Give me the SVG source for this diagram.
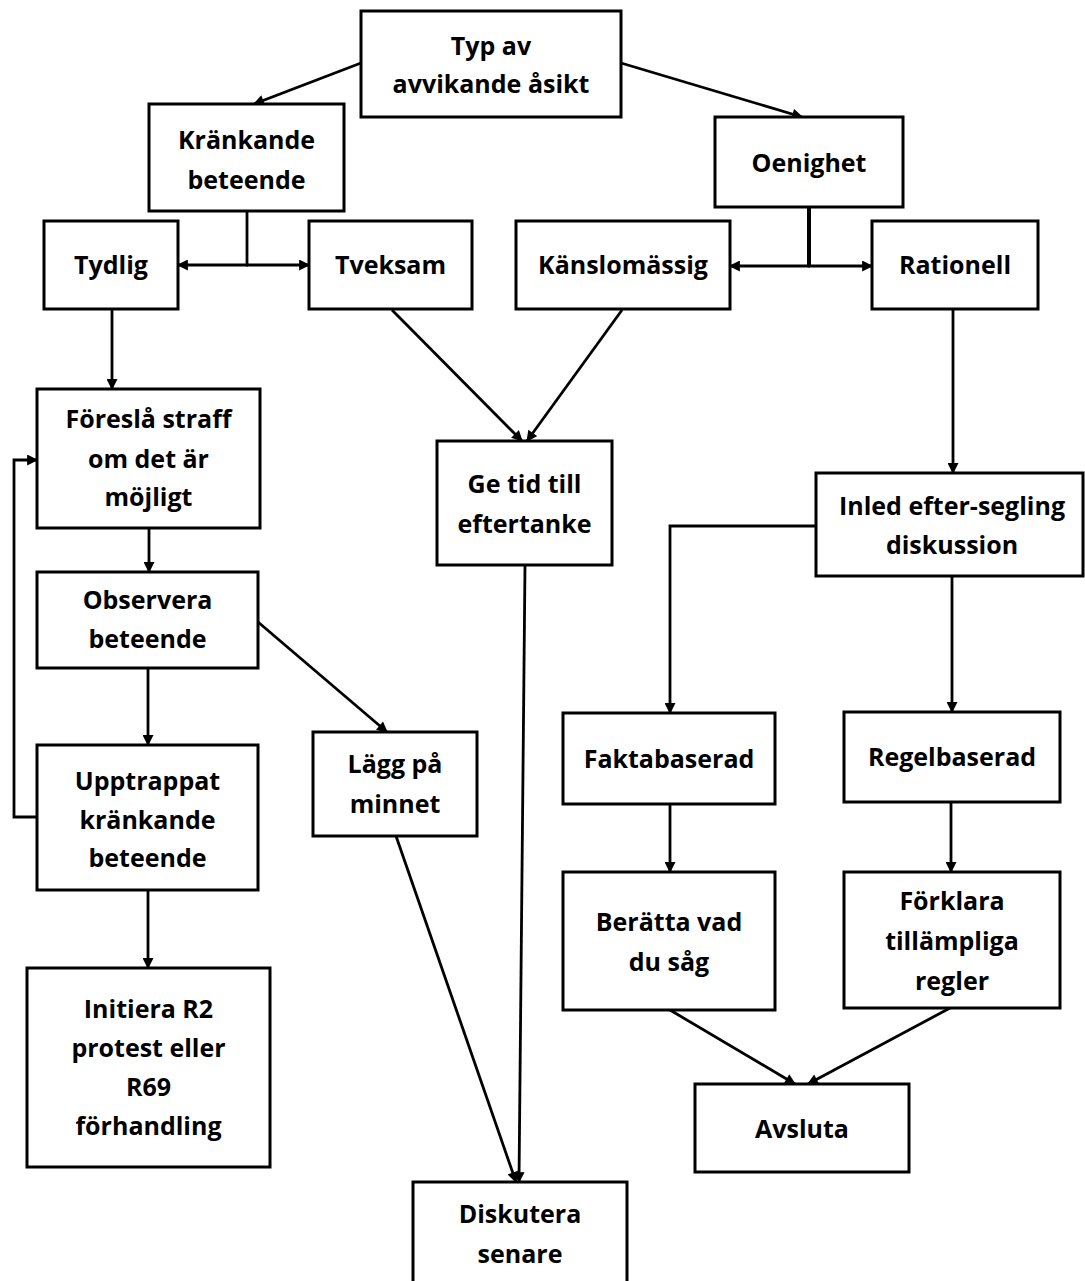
<svg xmlns="http://www.w3.org/2000/svg" width="1085" height="1281" viewBox="0 0 1085 1281">
<style>
  .box { fill: #ffffff; stroke: #000000; stroke-width: 3; }
  .lbl { font-family: "Open Sans", "Liberation Sans", sans-serif; font-weight: 700; font-size: 25px; fill: #000000; text-anchor: middle; }
  .con { fill: none; stroke: #000000; stroke-width: 2.8; }
</style>
<defs>
  <marker id="ah" viewBox="0 0 10 10" refX="9" refY="5" markerWidth="12" markerHeight="11" markerUnits="userSpaceOnUse" orient="auto">
    <path d="M0,0 L10,5 L0,10 z" fill="#000000"/>
  </marker>
</defs>
<rect x="0" y="0" width="1085" height="1281" fill="#ffffff"/>

<g id="connectors">
  <line class="con" x1="361" y1="63" x2="254" y2="104" marker-end="url(#ah)"/>
  <line class="con" x1="621" y1="63" x2="802" y2="117" marker-end="url(#ah)"/>
  <line class="con" x1="247" y1="211" x2="247" y2="266"/>
  <line class="con" x1="248" y1="265" x2="178" y2="265" marker-end="url(#ah)"/>
  <line class="con" x1="246" y1="265" x2="309" y2="265" marker-end="url(#ah)"/>
  <line class="con" x1="809" y1="207" x2="809" y2="267" style="stroke-width:4"/>
  <line class="con" x1="810" y1="266" x2="730" y2="266" marker-end="url(#ah)"/>
  <line class="con" x1="808" y1="266" x2="872" y2="266" marker-end="url(#ah)"/>
  <line class="con" x1="112" y1="309" x2="112" y2="389" marker-end="url(#ah)"/>
  <line class="con" x1="392" y1="310" x2="522" y2="441" marker-end="url(#ah)"/>
  <line class="con" x1="622" y1="310" x2="527" y2="441" marker-end="url(#ah)"/>
  <line class="con" x1="953" y1="309" x2="953" y2="473" marker-end="url(#ah)"/>
  <line class="con" x1="149" y1="528" x2="149" y2="572" marker-end="url(#ah)"/>
  <line class="con" x1="148" y1="668" x2="148" y2="745" marker-end="url(#ah)"/>
  <line class="con" x1="148" y1="890" x2="148" y2="968" marker-end="url(#ah)"/>
  <path class="con" d="M37,817 H14 V460 H37" marker-end="url(#ah)"/>
  <line class="con" x1="258" y1="622" x2="387" y2="732" marker-end="url(#ah)"/>
  <line class="con" x1="525" y1="565" x2="519" y2="1182" marker-end="url(#ah)"/>
  <line class="con" x1="396" y1="836" x2="516" y2="1182" marker-end="url(#ah)"/>
  <path class="con" d="M816,526 H670 V713" marker-end="url(#ah)"/>
  <line class="con" x1="952" y1="576" x2="952" y2="712" marker-end="url(#ah)"/>
  <line class="con" x1="670" y1="804" x2="670" y2="872" marker-end="url(#ah)"/>
  <line class="con" x1="951" y1="802" x2="951" y2="872" marker-end="url(#ah)"/>
  <line class="con" x1="670" y1="1010" x2="795" y2="1084" marker-end="url(#ah)"/>
  <line class="con" x1="950" y1="1008" x2="808" y2="1084" marker-end="url(#ah)"/>
</g>

<g id="typ">
  <rect class="box" x="361" y="11" width="260" height="106"/>
  <text class="lbl" x="491" y="55">Typ av</text>
  <text class="lbl" x="491" y="93">avvikande åsikt</text>
</g>
<g id="krankande">
  <rect class="box" x="149" y="104" width="195" height="107"/>
  <text class="lbl" x="246.5" y="149">Kränkande</text>
  <text class="lbl" x="246.5" y="189">beteende</text>
</g>
<g id="oenighet">
  <rect class="box" x="715" y="117" width="188" height="90"/>
  <text class="lbl" x="809" y="172">Oenighet</text>
</g>
<g id="tydlig">
  <rect class="box" x="44" y="221" width="134" height="88"/>
  <text class="lbl" x="111" y="274">Tydlig</text>
</g>
<g id="tveksam">
  <rect class="box" x="309" y="221" width="163" height="88"/>
  <text class="lbl" x="390.5" y="274">Tveksam</text>
</g>
<g id="kanslomassig">
  <rect class="box" x="516" y="221" width="214" height="88"/>
  <text class="lbl" x="623" y="274">Känslomässig</text>
</g>
<g id="rationell">
  <rect class="box" x="872" y="221" width="166" height="88"/>
  <text class="lbl" x="955" y="274">Rationell</text>
</g>
<g id="foresla">
  <rect class="box" x="37" y="389" width="223" height="139"/>
  <text class="lbl" x="148.5" y="428">Föreslå straff</text>
  <text class="lbl" x="148.5" y="468">om det är</text>
  <text class="lbl" x="148.5" y="506">möjligt</text>
</g>
<g id="observera">
  <rect class="box" x="37" y="572" width="221" height="96"/>
  <text class="lbl" x="147.5" y="609">Observera</text>
  <text class="lbl" x="147.5" y="648">beteende</text>
</g>
<g id="upptrappat">
  <rect class="box" x="37" y="745" width="221" height="145"/>
  <text class="lbl" x="147.5" y="790">Upptrappat</text>
  <text class="lbl" x="147.5" y="829">kränkande</text>
  <text class="lbl" x="147.5" y="867">beteende</text>
</g>
<g id="initiera">
  <rect class="box" x="27" y="968" width="243" height="199"/>
  <text class="lbl" x="148.5" y="1018">Initiera R2</text>
  <text class="lbl" x="148.5" y="1057">protest eller</text>
  <text class="lbl" x="148.5" y="1096">R69</text>
  <text class="lbl" x="148.5" y="1135">förhandling</text>
</g>
<g id="lagg">
  <rect class="box" x="313" y="732" width="164" height="104"/>
  <text class="lbl" x="395" y="773">Lägg på</text>
  <text class="lbl" x="395" y="813">minnet</text>
</g>
<g id="getid">
  <rect class="box" x="437" y="441" width="175" height="124"/>
  <text class="lbl" x="524.5" y="493">Ge tid till</text>
  <text class="lbl" x="524.5" y="533">eftertanke</text>
</g>
<g id="diskutera">
  <rect class="box" x="413" y="1182" width="214" height="110"/>
  <text class="lbl" x="520" y="1223">Diskutera</text>
  <text class="lbl" x="520" y="1263">senare</text>
</g>
<g id="inled">
  <rect class="box" x="816" y="473" width="267" height="103"/>
  <text class="lbl" x="952" y="515">Inled efter-segling</text>
  <text class="lbl" x="952" y="554">diskussion</text>
</g>
<g id="faktabaserad">
  <rect class="box" x="563" y="713" width="212" height="91"/>
  <text class="lbl" x="669" y="768">Faktabaserad</text>
</g>
<g id="regelbaserad">
  <rect class="box" x="844" y="712" width="216" height="90"/>
  <text class="lbl" x="952" y="766">Regelbaserad</text>
</g>
<g id="beratta">
  <rect class="box" x="563" y="872" width="212" height="138"/>
  <text class="lbl" x="669" y="931">Berätta vad</text>
  <text class="lbl" x="669" y="971">du såg</text>
</g>
<g id="forklara">
  <rect class="box" x="844" y="872" width="216" height="136"/>
  <text class="lbl" x="952" y="910">Förklara</text>
  <text class="lbl" x="952" y="950">tillämpliga</text>
  <text class="lbl" x="952" y="990">regler</text>
</g>
<g id="avsluta">
  <rect class="box" x="695" y="1084" width="214" height="88"/>
  <text class="lbl" x="802" y="1138">Avsluta</text>
</g>
</svg>
